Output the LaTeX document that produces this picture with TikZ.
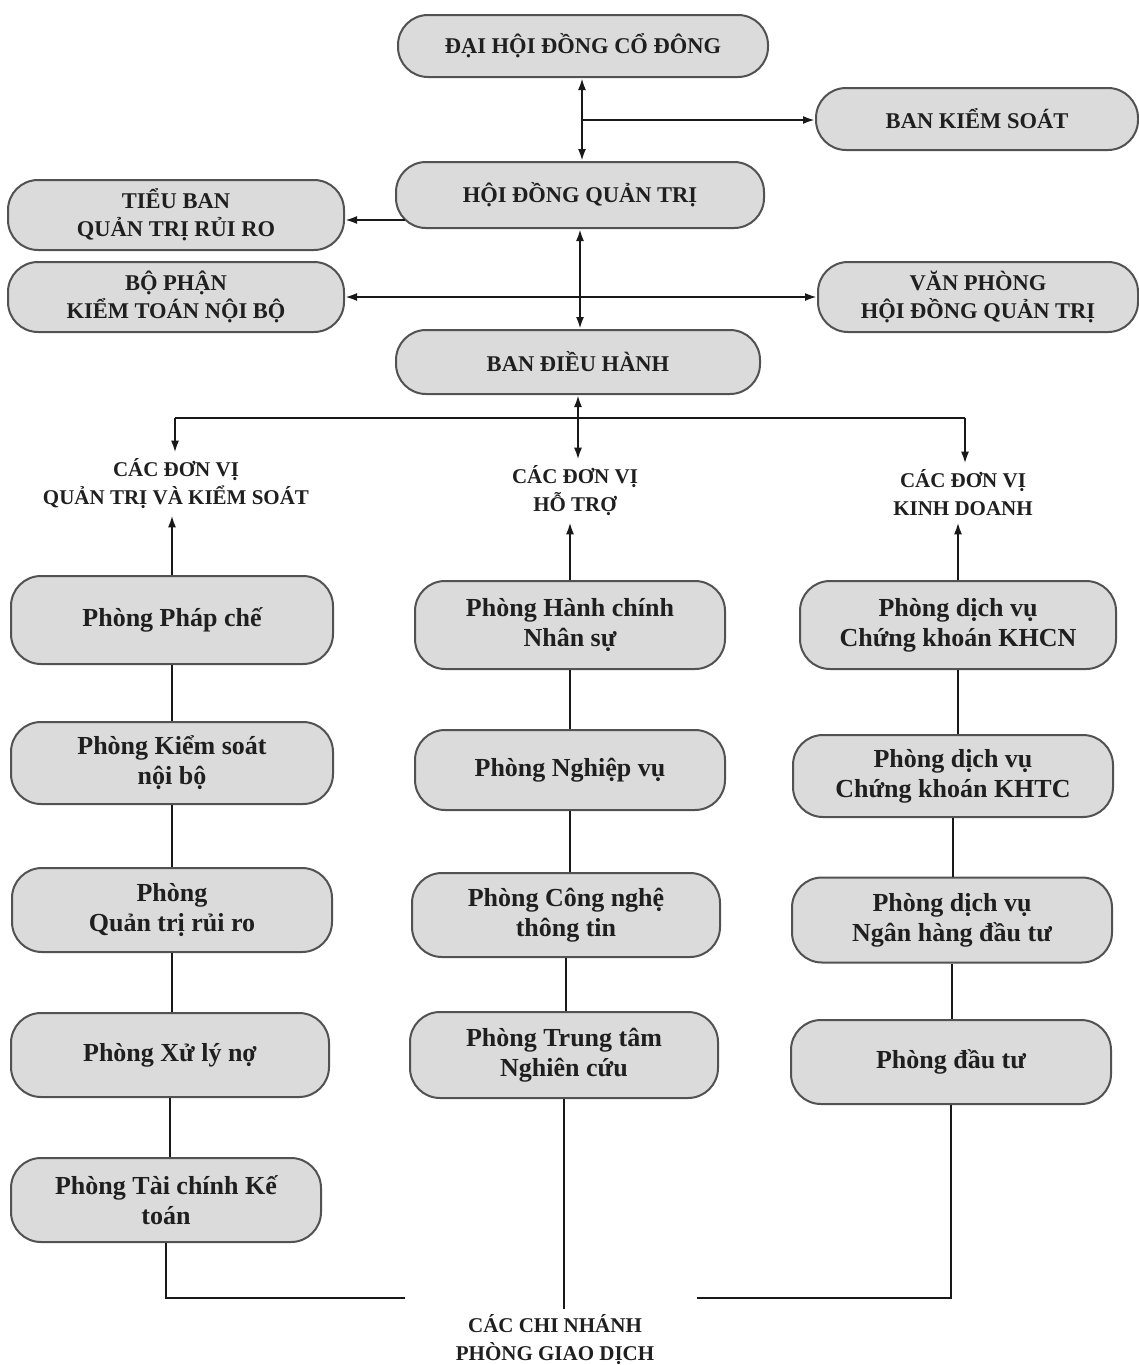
\documentclass[tikz,border=0pt]{standalone}
\usepackage{fontspec}
\setmainfont{Liberation Serif}
\usetikzlibrary{arrows.meta,calc}
\begin{document}
\begin{tikzpicture}[x=1pt,y=-1pt,
  unit/.style={draw=black!68, line width=2pt, fill=black!14, rounded corners=30pt,
    align=center, text=black!88, inner sep=2pt},
  upbox/.style={unit, font=\bfseries\fontsize{22.5}{28}\selectfont},
  lowbox/.style={unit, font=\bfseries\fontsize{26}{30}\selectfont},
  grp/.style={align=center, text=black!88, inner sep=6pt, font=\bfseries\fontsize{21}{28}\selectfont},
  conn/.style={line width=2.2pt, draw=black!90},
  arr/.style={conn, -{Latex[length=12pt,width=8pt]}},
  darr/.style={conn, {Latex[length=12pt,width=8pt]}-{Latex[length=12pt,width=8pt]}}
]
\useasboundingbox (0,0) rectangle (1138,1365);

% top level
\node[upbox, minimum width=370, minimum height=62] (dh) at (583,46) {ĐẠI HỘI ĐỒNG CỔ ĐÔNG};
\node[upbox, minimum width=322, minimum height=62] (bks) at (977,119) {BAN KIỂM SOÁT};
\node[upbox, minimum width=368, minimum height=66] (hdqt) at (580,195) {HỘI ĐỒNG QUẢN TRỊ};
\node[upbox, minimum width=336, minimum height=70] (tb) at (176,215) {TIỂU BAN\\QUẢN TRỊ RỦI RO};
\node[upbox, minimum width=336, minimum height=70] (bp) at (176,297) {BỘ PHẬN\\KIỂM TOÁN NỘI BỘ};
\node[upbox, minimum width=320, minimum height=70] (vp) at (978,297) {VĂN PHÒNG\\HỘI ĐỒNG QUẢN TRỊ};
\node[upbox, minimum width=364, minimum height=64] (bdh) at (578,362) {BAN ĐIỀU HÀNH};

% group labels
\node[grp] (gqt) at (176,484) {CÁC ĐƠN VỊ\\QUẢN TRỊ VÀ KIỂM SOÁT};
\node[grp] (ght) at (575,491) {CÁC ĐƠN VỊ\\HỖ TRỢ};
\node[grp] (gkd) at (963,493) {CÁC ĐƠN VỊ\\KINH DOANH};

% left column
\node[lowbox, minimum width=322, minimum height=88] (l1) at (172,620) {Phòng Pháp chế};
\node[lowbox, minimum width=322, minimum height=82] (l2) at (172,763) {Phòng Kiểm soát\\nội bộ};
\node[lowbox, minimum width=320, minimum height=84] (l3) at (172,910) {Phòng\\Quản trị rủi ro};
\node[lowbox, minimum width=318, minimum height=84] (l4) at (170,1055) {Phòng Xử lý nợ};
\node[lowbox, minimum width=310, minimum height=84] (l5) at (166,1200) {Phòng Tài chính Kế\\toán};

% middle column
\node[lowbox, minimum width=310, minimum height=88] (m1) at (570,625) {Phòng Hành chính\\Nhân sự};
\node[lowbox, minimum width=310, minimum height=80] (m2) at (570,770) {Phòng Nghiệp vụ};
\node[lowbox, minimum width=308, minimum height=84] (m3) at (566,915) {Phòng Công nghệ\\thông tin};
\node[lowbox, minimum width=308, minimum height=86] (m4) at (564,1055) {Phòng Trung tâm\\Nghiên cứu};

% right column
\node[lowbox, minimum width=316, minimum height=88] (r1) at (958,625) {Phòng dịch vụ\\Chứng khoán KHCN};
\node[lowbox, minimum width=320, minimum height=82] (r2) at (953,776) {Phòng dịch vụ\\Chứng khoán KHTC};
\node[lowbox, minimum width=320, minimum height=85] (r3) at (952,920) {Phòng dịch vụ\\Ngân hàng đầu tư};
\node[lowbox, minimum width=320, minimum height=84] (r4) at (951,1062) {Phòng đầu tư};

% bottom label
\node[grp] (br) at (555,1340) {CÁC CHI NHÁNH\\PHÒNG GIAO DỊCH};

% coordinates
\coordinate (kb) at (582,120);
\coordinate (tl) at (175,418);
\coordinate (tr) at (965,418);
\coordinate (cl) at (405,1298);
\coordinate (cr) at (697,1298);

% top connectors
\draw[darr] (dh.south -| kb) -- (hdqt.north -| kb);
\draw[arr] (kb) -- (bks.west |- kb);
\draw[arr] ([xshift=10pt]hdqt.west |- 0,220) -- (tb.east |- 0,220);
\draw[darr] (hdqt.south) -- (bdh.north -| hdqt.south);
\draw[darr] (bp.east) -- (vp.west);
\draw[darr] (bdh.south) -- (bdh.south |- ght.north);
\draw[conn] (tl) -- (tr);
\draw[arr] (tl) -- (tl |- gqt.north);
\draw[arr] (tr) -- (tr |- gkd.north);

% columns
\draw[arr] (l1.north) -- (l1.north |- gqt.south);
\draw[conn] (l1.south) -- (l1.south |- l2.north);
\draw[conn] (l2.south) -- (l2.south |- l3.north);
\draw[conn] (l3.south) -- (l3.south |- l4.north);
\draw[conn] (l4.south) -- (l4.south |- l5.north);

\draw[arr] (m1.north) -- (m1.north |- ght.south);
\draw[conn] (m1.south) -- (m1.south |- m2.north);
\draw[conn] (m2.south) -- (m2.south |- m3.north);
\draw[conn] (m3.south) -- (m3.south |- m4.north);

\draw[arr] (r1.north) -- (r1.north |- gkd.south);
\draw[conn] (r1.south) -- (r1.south |- r2.north);
\draw[conn] (r2.south) -- (r2.south |- r3.north);
\draw[conn] (r3.south) -- (r3.south |- r4.north);

% bottom
\draw[conn] (l5.south) |- (cl);
\draw[conn] (r4.south) |- (cr);
\draw[conn] (m4.south) -- (m4.south |- br.north);
\end{tikzpicture}
\end{document}
